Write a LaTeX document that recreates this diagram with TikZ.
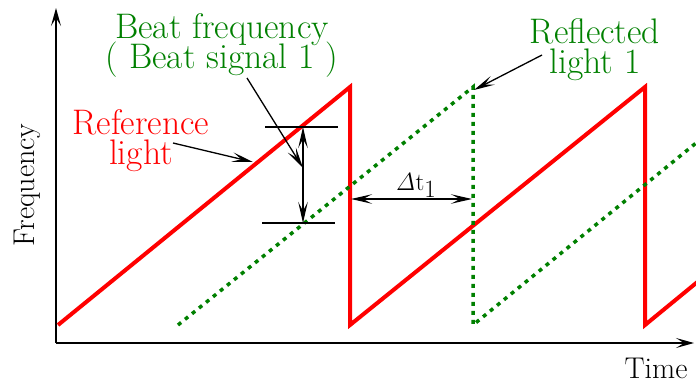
\documentclass[tikz,border=0pt]{standalone}
\usetikzlibrary{arrows.meta}
\definecolor{gcol}{RGB}{0,128,0}
\newcommand{\tightlines}{\lineskiplimit=-50pt\relax}
\begin{document}
\begin{tikzpicture}[x=1pt,y=-1pt,
  ax/.style={line width=1.4pt,-{Stealth[length=18pt,width=10pt,inset=8pt]}},
  ptr/.style={line width=1.3pt,-{Stealth[length=21pt,width=9.5pt,inset=9pt]}},
  dbl/.style={line width=1.3pt,{Stealth[length=21pt,width=9.5pt,inset=9pt]}-{Stealth[length=21pt,width=9.5pt,inset=9pt]}},
  guide/.style={line width=1.3pt},
  refline/.style={red,line width=4pt,line join=miter},
  beatline/.style={gcol,line width=3.5pt,dash pattern=on 4pt off 5pt},
  big/.style={font=\fontsize{35.5}{30}\selectfont\tightlines,inner sep=0pt,align=center},
  small/.style={font=\fontsize{30}{30}\selectfont,inner sep=0pt}]
\useasboundingbox (0,0) rectangle (696,383);
% axes
\coordinate (o) at (56,343);
\coordinate (ytop) at (56,8);
\coordinate (xend) at (694,343);
\draw[ax] (o) -- (ytop);
\draw[ax] (o) -- (xend);
% signals
\begin{scope}
\clip (0,0) rectangle (696,383);
\draw[refline] (58,325) -- (350,87) -- (350,325) -- (645,87) -- (645,325) -- (712,270);
\draw[beatline] (178,325) -- (473,87) -- (473,325) -- (712,130);
\end{scope}
% guides
\coordinate (h1a) at (265,127); \coordinate (h1b) at (338,127);
\coordinate (h2a) at (262,223); \coordinate (h2b) at (335,223);
\draw[guide] (h1a) -- (h1b);
\draw[guide] (h2a) -- (h2b);
\coordinate (va) at (303,127); \coordinate (vb) at (303,223);
\draw[dbl] (va) -- (vb);
\coordinate (da) at (351,199); \coordinate (db) at (472,199);
\draw[dbl] (da) -- (db);
% labels
\node[big,gcol] (beat) at (222,45.5) {Beat frequency\\\relax{(} Beat signal 1 {)}};
\node[big,gcol] (refl) at (595,49.5) {Reflected\\\relax light 1};
\node[big,red] (ref) at (141,141) {Reference\\\relax light};
\node[small,rotate=90] (freq) at (27,185) {Frequency};
\node[small,anchor=base] (time) at (656,378) {Time};
\node[inner sep=0pt,anchor=base,font=\fontsize{34}{34}\selectfont] (dt) at (416,190) {$\mathit{\Delta}\mathrm{t}_1$};
% pointers
\coordinate (p1s) at (247,78); \coordinate (p1e) at (303,168);
\draw[ptr] (p1s) -- (p1e);
\coordinate (p2s) at (173,143); \coordinate (p2e) at (253,162);
\draw[ptr] (p2s) -- (p2e);
\coordinate (p3s) at (542,55); \coordinate (p3e) at (474,90);
\draw[ptr] (p3s) -- (p3e);
\end{tikzpicture}
\end{document}
